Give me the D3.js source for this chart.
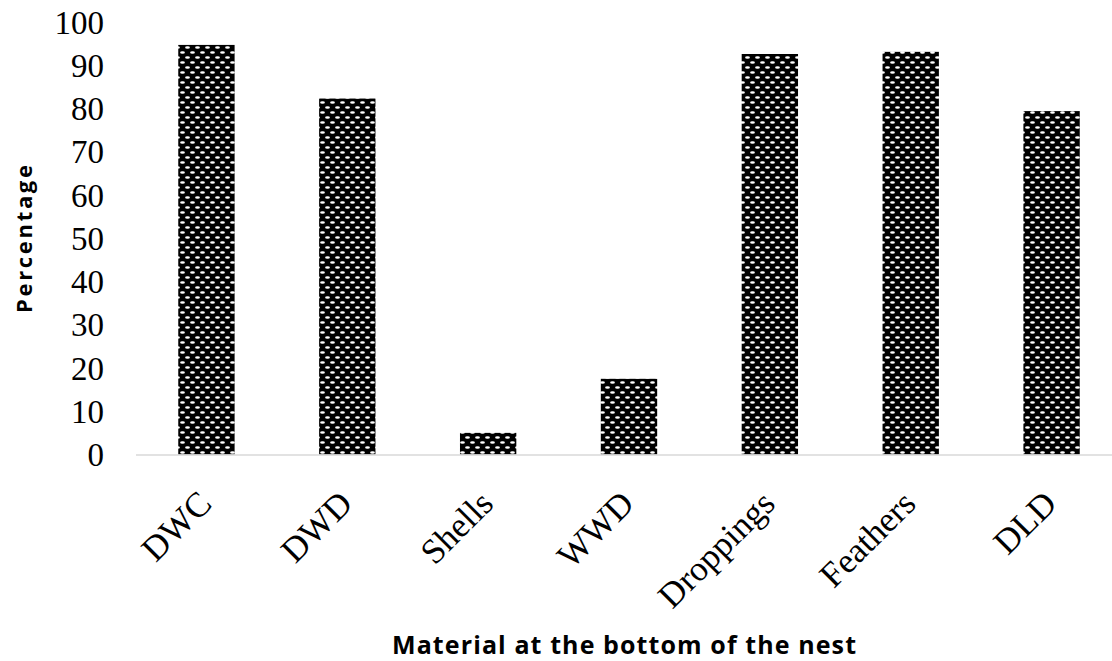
<!DOCTYPE html>
<html>
<head>
<meta charset="utf-8">
<script src="https://cdn.jsdelivr.net/npm/d3@7"></script>
<style>
  html, body { margin: 0; padding: 0; background: #fff; }
  svg { display: block; }
</style>
</head>
<body>
<script>
// Share of nests with each material found at the bottom
const categories = ["DWC", "DWD", "Shells", "WWD", "Droppings", "Feathers", "DLD"];
const percentages = [94.7, 82.3, 5, 17.5, 92.6, 93.1, 79.4];
const yTicks = [0, 10, 20, 30, 40, 50, 60, 70, 80, 90, 100];
const xTitle = "Material at the bottom of the nest";
const yTitle = "Percentage";

const width = 1112, height = 661;

const svg = d3.select("body").append("svg")
  .attr("width", width)
  .attr("height", height);

svg.append("rect").attr("width", width).attr("height", height).attr("fill", "#fff");

// Dotted black fill: white ovals in staggered rows on black
const defs = svg.append("defs");
const pat = defs.append("pattern")
  .attr("id", "dots")
  .attr("patternUnits", "userSpaceOnUse")
  .attr("width", 10)
  .attr("height", 10);
pat.append("rect").attr("width", 10).attr("height", 10).attr("fill", "#000");
[[2.5, 2.5], [7.5, 7.5], [-2.5, 7.5], [12.5, 7.5]].forEach(([cx, cy]) => {
  pat.append("ellipse")
    .attr("cx", cx).attr("cy", cy)
    .attr("rx", 2.4).attr("ry", 1.2)
    .attr("fill", "#fff");
});

const x = d3.scaleBand()
  .domain(categories)
  .range([136, 1122])
  .paddingInner(0.6)
  .paddingOuter(0.3);

const y = d3.scaleLinear()
  .domain([0, 100])
  .range([454.5, 22]);

const serif = "'Liberation Serif', 'Times New Roman', serif";
const sans = "'Open Sans', 'Liberation Sans', sans-serif";

// Bars
svg.append("g")
  .selectAll("rect")
  .data(categories)
  .join("rect")
  .attr("x", d => x(d))
  .attr("width", x.bandwidth())
  .attr("y", (d, i) => y(percentages[i]))
  .attr("height", (d, i) => y(0) - y(percentages[i]))
  .attr("fill", "url(#dots)");

// Y axis: labels only
const yAxis = svg.append("g")
  .attr("transform", "translate(104,0)")
  .call(d3.axisLeft(y).tickValues(yTicks).tickSize(0).tickPadding(0));
yAxis.select(".domain").remove();
yAxis.selectAll("text")
  .attr("font-family", serif)
  .attr("font-size", 33)
  .attr("fill", "#000")
  .attr("dy", "0.34em");

// X axis: baseline and rotated category labels
const xAxis = svg.append("g")
  .attr("transform", `translate(0,${y(0)})`)
  .call(d3.axisBottom(x).tickSize(0).tickPadding(0));
xAxis.select(".domain")
  .attr("d", `M136,0.5H1112`)
  .attr("stroke", "#d9d9d9")
  .attr("stroke-width", 1.5);
xAxis.selectAll(".tick text")
  .attr("font-family", serif)
  .attr("font-size", 35)
  .attr("fill", "#000")
  .attr("text-anchor", "end")
  .attr("y", 0)
  .attr("dy", 0)
  .attr("transform", "translate(7,51) rotate(-45)");

// Axis titles
svg.append("text")
  .attr("transform", "translate(32,239) rotate(-90)")
  .attr("text-anchor", "middle")
  .attr("font-family", sans)
  .attr("font-weight", "bold")
  .attr("font-size", 22)
  .attr("textLength", 148)
  .attr("lengthAdjust", "spacing")
  .attr("fill", "#000")
  .text(yTitle);

svg.append("text")
  .attr("x", 624)
  .attr("y", 654)
  .attr("text-anchor", "middle")
  .attr("font-family", sans)
  .attr("font-weight", "bold")
  .attr("font-size", 25)
  .attr("textLength", 464)
  .attr("lengthAdjust", "spacing")
  .attr("fill", "#000")
  .text(xTitle);
</script>
</body>
</html>
